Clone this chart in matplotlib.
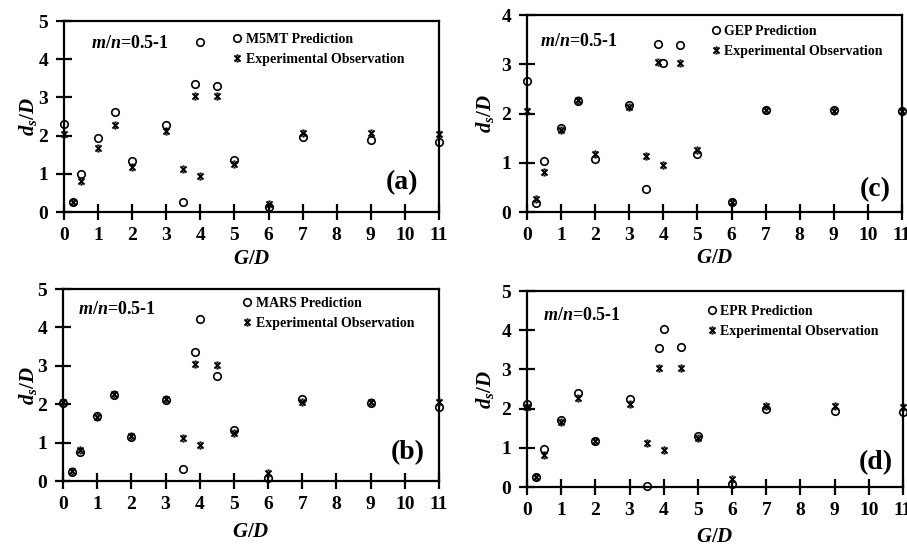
import matplotlib
matplotlib.use("Agg")
import matplotlib.pyplot as plt
from matplotlib.path import Path

plt.rcParams["font.family"] = ["Liberation Serif", "DejaVu Serif"]
plt.rcParams["font.weight"] = "bold"
plt.rcParams["mathtext.fontset"] = "custom"
plt.rcParams["mathtext.it"] = "Liberation Serif:italic:bold"
plt.rcParams["mathtext.rm"] = "Liberation Serif:bold"
plt.rcParams["mathtext.bf"] = "Liberation Serif:bold"

# G/D positions of the test cases
g_d = [0, 0.25, 0.5, 1, 1.5, 2, 3, 3.5, 3.85, 4, 4.5, 5, 6, 7, 9, 11]

# experimental ds/D (same in every panel)
observed = [2.05, 0.26, 0.82, 1.67, 2.27, 1.17, 2.13, 1.13, 3.04, 0.95, 3.03, 1.25, 0.21, 2.07, 2.06, 2.05]

# model predictions
m5mt = [2.30, 0.26, 1.00, 1.93, 2.62, 1.34, 2.27, 0.26, 3.36, 4.46, 3.29, 1.36, 0.13, 1.96, 1.89, 1.82]
mars = [2.02, 0.24, 0.76, 1.68, 2.23, 1.15, 2.11, 0.31, 3.37, 4.21, 2.73, 1.34, 0.07, 2.13, 2.02, 1.94]
gep = [2.66, 0.19, 1.03, 1.70, 2.26, 1.08, 2.17, 0.46, 3.42, 3.03, 3.40, 1.17, 0.20, 2.07, 2.07, 2.05]
epr = [2.12, 0.25, 0.97, 1.71, 2.39, 1.18, 2.24, 0.02, 3.55, 4.03, 3.58, 1.29, 0.08, 1.98, 1.95, 1.91]

# excel-like "x" marker with short caps top and bottom
xcap = Path([(-1, -1), (1, 1), (-1, 1), (1, -1), (-0.35, 1), (0.35, 1), (-0.35, -1), (0.35, -1)],
            [Path.MOVETO, Path.LINETO] * 4)

W, H = 907, 548
fig = plt.figure(figsize=(W / 100, H / 100), dpi=100)


def fx(x):
    return x / W


def fy(y):
    return 1 - y / H


# name, prediction, panel tag, y max, axes box (left, top, right, bottom) px,
# m/n text pos, legend pos, tag pos, ylabel x, xlabel y
panels = [
    ("M5MT Prediction", m5mt, "(a)", 5, (64, 21, 439, 212), (91, 43), (233, 30), (402, 183), 28, 259),
    ("MARS Prediction", mars, "(b)", 5, (63, 289, 439, 481), (78, 310), (243, 294), (408, 453), 28, 532),
    ("GEP Prediction", gep, "(c)", 4, (527, 15, 902, 212), (540, 41), (712, 22), (875, 190), 485, 258),
    ("EPR Prediction", epr, "(d)", 5, (527, 291, 903, 487), (543, 315), (708, 302), (876, 463), 485, 537),
]

for name, pred, tag, ymax, box, mn_pos, leg_pos, tag_pos, ylab_x, xlab_y in panels:
    l, t, r, b = box
    ax = fig.add_axes([fx(l), fy(b), fx(r - l), (b - t) / H])
    ax.plot(g_d, pred, linestyle="none", marker="o", markersize=5.4,
            markerfacecolor="none", markeredgecolor="black", markeredgewidth=1.2,
            label=name, clip_on=False, zorder=3)
    ax.plot(g_d, observed, linestyle="none", marker=xcap, markersize=4.4,
            markeredgecolor="black", markeredgewidth=1.4,
            label="Experimental Observation", clip_on=False, zorder=4)
    ax.set_xlim(0, 11)
    ax.set_ylim(0, ymax)
    ax.set_xticks(range(0, 12))
    ax.set_yticks(range(0, ymax + 1))
    for s in ax.spines.values():
        s.set_linewidth(1.6)
    ax.tick_params(direction="inout", length=11, width=1.6, labelsize=14)
    ax.tick_params(axis="x", pad=5)
    ax.tick_params(axis="y", pad=6)
    for lab in ax.get_xticklabels() + ax.get_yticklabels():
        lab.set_fontweight("bold")

    fig.text(fx(ylab_x), fy((t + b) / 2), r"$d_s/D$", rotation=90,
             ha="center", va="center", fontsize=15)
    fig.text(fx((l + r) / 2), fy(xlab_y), r"$G/D$", ha="center", va="center",
             fontsize=15)
    fig.text(fx(mn_pos[0]), fy(mn_pos[1]), r"$m/n$=0.5-1", ha="left", va="center",
             fontsize=13, fontweight="bold")
    fig.text(fx(tag_pos[0]), fy(tag_pos[1]), tag, ha="center", va="center",
             fontsize=20, fontweight="bold")

    leg = ax.legend(loc="upper left", bbox_to_anchor=(fx(leg_pos[0]), fy(leg_pos[1] + 3)),
                    bbox_transform=fig.transFigure, frameon=False, fontsize=10,
                    handlelength=0.6, handletextpad=0.3, labelspacing=0.5,
                    borderpad=0, borderaxespad=0)
    for txt in leg.get_texts():
        txt.set_fontweight("bold")

fig.savefig("out.png", dpi=100)
